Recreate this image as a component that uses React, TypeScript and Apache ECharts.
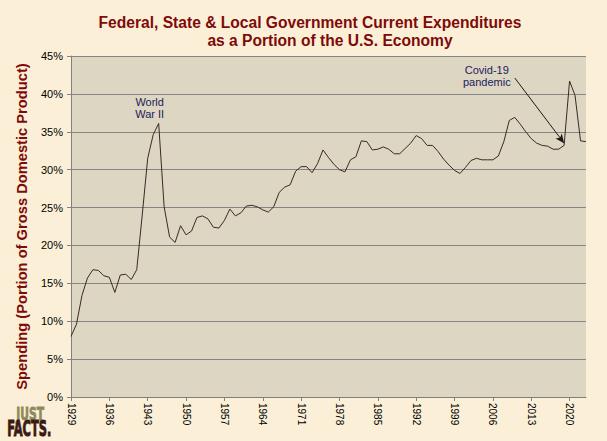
import React, { useEffect, useRef } from "react";
import * as echarts from "echarts";

const startYear = 1929;
const endYear = 2023;
const years: string[] = [];
for (let y = startYear; y <= endYear; y++) years.push(String(y));

// Spending as % of GDP, 1929–2023
const spending: number[] = [
  8.0, 9.6, 13.4, 15.7, 16.8, 16.7, 16.0, 15.8, 13.8, 16.1, // 1929-1938
  16.2, 15.5, 16.8, 24.0, 31.5, 34.6, 36.1, 25.1, 21.1, 20.4, // 1939-1948
  22.6, 21.4, 21.9, 23.7, 23.9, 23.5, 22.4, 22.3, 23.3, 24.8, // 1949-1958
  23.9, 24.3, 25.2, 25.3, 25.1, 24.7, 24.4, 25.1, 27.0, 27.7, // 1959-1968
  28.0, 29.8, 30.4, 30.4, 29.6, 30.8, 32.6, 31.6, 30.7, 30.0, // 1969-1978
  29.7, 31.3, 31.7, 33.8, 33.7, 32.6, 32.7, 33.0, 32.7, 32.1, // 1979-1988
  32.1, 32.8, 33.5, 34.5, 34.1, 33.2, 33.2, 32.4, 31.4, 30.6, // 1989-1998
  29.9, 29.5, 30.3, 31.2, 31.5, 31.3, 31.3, 31.3, 31.8, 33.7, // 1999-2008
  36.5, 36.9, 36.0, 35.0, 34.1, 33.5, 33.2, 33.1, 32.7, 32.7, // 2009-2018
  33.2, 41.7, 39.8, 33.8, 33.7, // 2019-2023
];

const titleLine1 = "Federal, State & Local Government Current Expenditures";
const titleLine2 = "as a Portion of the U.S. Economy";
const yAxisName = "Spending (Portion of Gross Domestic Product)";

const wwLabel = { text: "World\nWar II", year: "1945", value: 36.1 };
const covidLabel = { text: "Covid-19\npandemic", year: "2010", value: 42.1 };
const covidArrowEnd = { year: "2019", value: 33.5 };

const titleColor = "#7f0a0a";
const noteColor = "#1c1c5a";
const font = "Liberation Sans, Arial, sans-serif";

export default function App() {
  const ref = useRef<HTMLDivElement>(null);

  useEffect(() => {
    if (!ref.current) return;
    const chart = echarts.init(ref.current, undefined, { renderer: "svg" });
    chart.setOption({
      animation: false,
      backgroundColor: "#fbf0d7",
      title: [
        {
          text: titleLine1,
          left: 305,
          top: 9,
          textAlign: "center",
          textStyle: { fontFamily: font, fontSize: 15.6, fontWeight: "bold", color: titleColor },
        },
        {
          text: titleLine2,
          left: 325,
          top: 27,
          textAlign: "center",
          textStyle: { fontFamily: font, fontSize: 15.6, fontWeight: "bold", color: titleColor },
        },
      ],
      grid: {
        left: 71,
        right: 21,
        top: 56,
        bottom: 44,
        show: true,
        backgroundColor: "#ddd6c3",
        borderWidth: 0,
      },
      xAxis: {
        type: "category",
        data: years,
        boundaryGap: false,
        axisLine: { lineStyle: { color: "#808080", width: 1 } },
        axisTick: { show: true, interval: 6, length: 4, lineStyle: { color: "#808080" } },
        axisLabel: {
          interval: 6,
          rotate: -90,
          margin: 6,
          fontFamily: font,
          fontSize: 10,
          color: "#000",
        },
        splitLine: { show: false },
      },
      yAxis: {
        type: "value",
        min: 0,
        max: 45,
        interval: 5,
        name: yAxisName,
        nameLocation: "middle",
        nameGap: 42,
        nameTextStyle: { fontFamily: font, fontSize: 14.7, fontWeight: "bold", color: titleColor },
        axisLine: { show: true, lineStyle: { color: "#808080", width: 1 } },
        axisTick: { show: true, length: 4, lineStyle: { color: "#808080" } },
        axisLabel: {
          formatter: "{value}%",
          margin: 8,
          fontFamily: font,
          fontSize: 11,
          color: "#000",
        },
        splitLine: { show: true, lineStyle: { color: "#858585", width: 1 } },
      },
      series: [
        {
          type: "line",
          data: spending,
          symbol: "none",
          lineStyle: { color: "#3b2826", width: 1 },
          markPoint: {
            silent: true,
            symbol: "circle",
            symbolSize: 0,
            label: {
              show: true,
              fontFamily: font,
              fontSize: 11,
              lineHeight: 12,
              color: noteColor,
              align: "center",
              verticalAlign: "middle",
            },
            data: [
              {
                coord: [wwLabel.year, wwLabel.value],
                label: { formatter: wwLabel.text, position: "inside", offset: [-9, -15] },
              },
              {
                coord: [covidLabel.year, covidLabel.value],
                label: { formatter: covidLabel.text, position: "inside", offset: [-28, -2] },
              },
            ],
          },
          markLine: {
            silent: true,
            symbol: ["none", "arrow"],
            symbolSize: [6, 9],
            label: { show: false },
            lineStyle: { color: "#1a1a1a", width: 1, type: "solid" },
            data: [
              [
                { coord: [covidLabel.year, covidLabel.value] },
                { coord: [covidArrowEnd.year, covidArrowEnd.value] },
              ],
            ],
          },
        },
      ],
      graphic: [
        {
          type: "text",
          left: 16,
          top: 404,
          style: {
            text: "JUST",
            font: "bold 18px 'DejaVu Sans'",
            fill: "#8c8a5c",
            stroke: "#8c8a5c",
            lineWidth: 0.8,
          },
          scaleX: 0.6,
        },
        {
          type: "text",
          left: 7,
          top: 417,
          style: {
            text: "FACTS.",
            font: "bold 22px 'DejaVu Sans'",
            fill: "#3a1a12",
            stroke: "#3a1a12",
            lineWidth: 1,
          },
          scaleX: 0.52,
        },
      ],
    });
    return () => chart.dispose();
  }, []);

  return (
    <div
      ref={ref}
      style={{ position: "fixed", left: 0, top: 0, width: 607, height: 441 }}
    />
  );
}
